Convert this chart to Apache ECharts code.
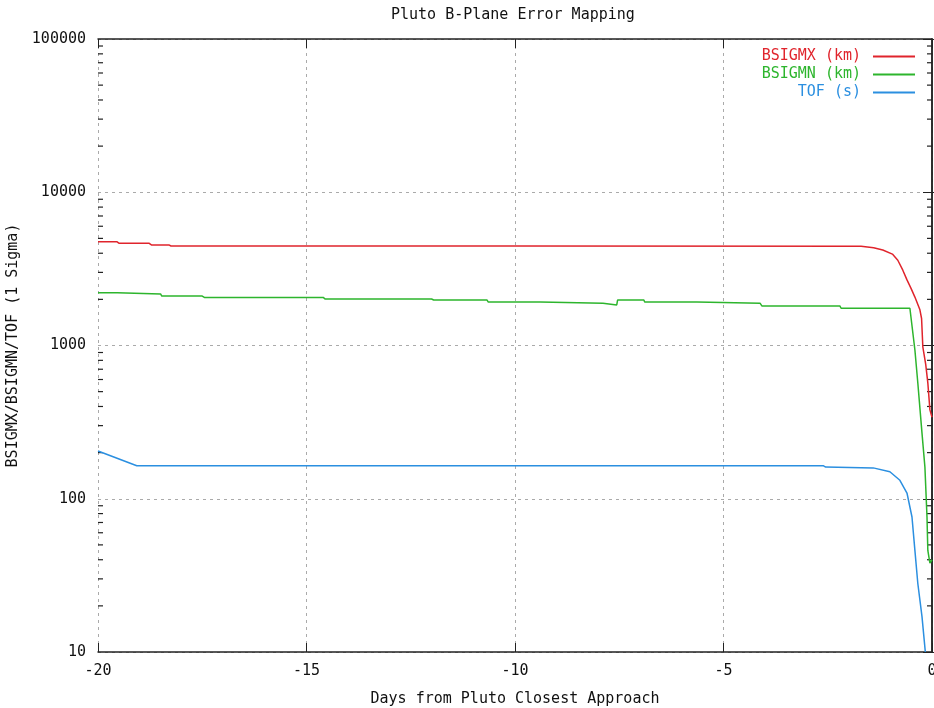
<!DOCTYPE html>
<html><head><meta charset="utf-8">
<script src="https://cdn.jsdelivr.net/npm/echarts@6/dist/echarts.min.js"></script>
<style>html,body{margin:0;padding:0;background:#fff}#c{width:934px;height:708px}</style>
</head><body><div id="c"></div>
<script>
// ---- data ----
const xTicks = [-20, -15, -10, -5, 0];
const yTicks = [10, 100, 1000, 10000, 100000];

const bsigmxDays = [-20, -19.55, -19.5, -18.78, -18.72, -18.3, -18.25, -10, -1.7, -1.4, -1.18, -0.95, -0.82, -0.7, -0.6, -0.5, -0.41, -0.29, -0.25, -0.22, -0.15, -0.1, -0.05, 0];
const bsigmxVals = [4760, 4760, 4650, 4650, 4530, 4530, 4460, 4460, 4440, 4350, 4200, 3950, 3600, 3100, 2680, 2350, 2070, 1710, 1500, 980, 750, 570, 380, 340];

const bsigmnDays = [-20, -19.54, -19.5, -18.5, -18.47, -17.5, -17.45, -14.6, -14.55, -12.0, -11.95, -10.67, -10.64, -9.4, -9.37, -7.89, -7.87, -7.56, -7.54, -6.91, -6.89, -5.64, -5.6, -4.12, -4.08, -2.21, -2.18, -0.53, -0.41, -0.34, -0.24, -0.17, -0.12, -0.1, -0.05, 0];
const bsigmnVals = [2210, 2210, 2170, 2170, 2100, 2100, 2060, 2060, 2010, 2010, 1980, 1980, 1920, 1920, 1885, 1885, 1840, 1840, 1980, 1980, 1920, 1920, 1885, 1885, 1811, 1811, 1750, 1750, 935, 569, 268, 161, 76, 46, 38, 40];

const tofDays = [-20, -19.07, -2.6, -2.55, -1.41, -1.01, -0.77, -0.6, -0.48, -0.41, -0.34, -0.24, -0.16];
const tofVals = [205, 164, 164, 161, 159, 150, 132, 109, 76, 46, 28, 17, 10];

const seriesNames = ['BSIGMX (km)', 'BSIGMN (km)', 'TOF (s)'];
const seriesColors = ['#e0242c', '#2db52d', '#2b8fe0'];

const pair = (xs, ys) => xs.map((x, i) => [x, ys[i]]);
const allData = [pair(bsigmxDays, bsigmxVals), pair(bsigmnDays, bsigmnVals), pair(tofDays, tofVals)];

const FONT = 'DejaVu Sans Mono';
const chart = echarts.init(document.getElementById('c'));
const axisLine = {show: true, lineStyle: {color: '#222', width: 1.5}};
const grid = {left: 98, right: 2, top: 39, bottom: 56, outerBoundsMode: 'none', containLabel: false};

const legends = seriesNames.map((n, i) => ({
  data: [n], right: 14, top: 44 + i * 18, align: 'right', icon: 'rect',
  itemWidth: 42, itemHeight: 2, selectedMode: false,
  textStyle: {color: seriesColors[i], fontFamily: FONT, fontSize: 15, padding: [0, 7, 0, 0]}
}));

chart.setOption({
  animation: false,
  title: {text: 'Pluto B-Plane Error Mapping', left: 386, top: 3,
    textStyle: {fontFamily: FONT, fontSize: 15, fontWeight: 'normal', color: '#111'}},
  legend: legends,
  grid: grid,
  xAxis: [{
    type: 'value', min: -20, max: 0, interval: 5, position: 'bottom',
    name: 'Days from Pluto Closest Approach', nameLocation: 'middle', nameGap: 40,
    nameTextStyle: {fontFamily: FONT, fontSize: 15, color: '#111'},
    axisLine: axisLine, axisTick: {inside: true, length: 9, lineStyle: {color: '#222'}},
    axisLabel: {fontFamily: FONT, fontSize: 15, color: '#111', margin: 12},
    splitLine: {show: true, lineStyle: {color: '#aaa', type: [3, 4], width: 1}}
  }, {
    type: 'value', min: -20, max: 0, interval: 5, position: 'top',
    axisLine: axisLine, axisTick: {inside: true, length: 9, lineStyle: {color: '#222'}},
    axisLabel: {show: false}, splitLine: {show: false}
  }],
  yAxis: [{
    type: 'log', logBase: 10, min: 10, max: 100000, position: 'left',
    name: 'BSIGMX/BSIGMN/TOF (1 Sigma)', nameLocation: 'middle', nameGap: 73,
    nameTextStyle: {fontFamily: FONT, fontSize: 15, color: '#111'},
    axisLine: axisLine, axisTick: {inside: true, length: 9, lineStyle: {color: '#222'}},
    axisLabel: {fontFamily: FONT, fontSize: 15, color: '#111', margin: 12,
      formatter: v => String(Math.round(v))},
    splitLine: {show: true, lineStyle: {color: '#aaa', type: [3, 4], width: 1}}
  }, {
    type: 'log', logBase: 10, min: 10, max: 100000, position: 'right',
    axisLine: axisLine, axisTick: {inside: true, length: 9, lineStyle: {color: '#222'}},
    axisLabel: {show: false}, splitLine: {show: false}
  }],
  series: allData.map((d, i) => ({
    name: seriesNames[i], type: 'line', data: d, symbol: 'none',
    lineStyle: {color: seriesColors[i], width: 1.5}, itemStyle: {color: seriesColors[i]},
    xAxisIndex: 0, yAxisIndex: 0, clip: true
  }))
});

// log-scale minor ticks on left and right edges, placed through the axis scale
const minor = [];
const xl = chart.convertToPixel({xAxisIndex: 0}, -20);
const xr = chart.convertToPixel({xAxisIndex: 0}, 0);
for (let d = 10; d < 100000; d *= 10) {
  for (let k = 2; k <= 9; k++) {
    const y = chart.convertToPixel({yAxisIndex: 0}, d * k);
    minor.push({type: 'line', shape: {x1: xl, y1: y, x2: xl + 5, y2: y}, style: {stroke: '#222', lineWidth: 1.2}});
    minor.push({type: 'line', shape: {x1: xr, y1: y, x2: xr - 5, y2: y}, style: {stroke: '#222', lineWidth: 1.2}});
  }
}
chart.setOption({graphic: minor});
</script></body></html>
